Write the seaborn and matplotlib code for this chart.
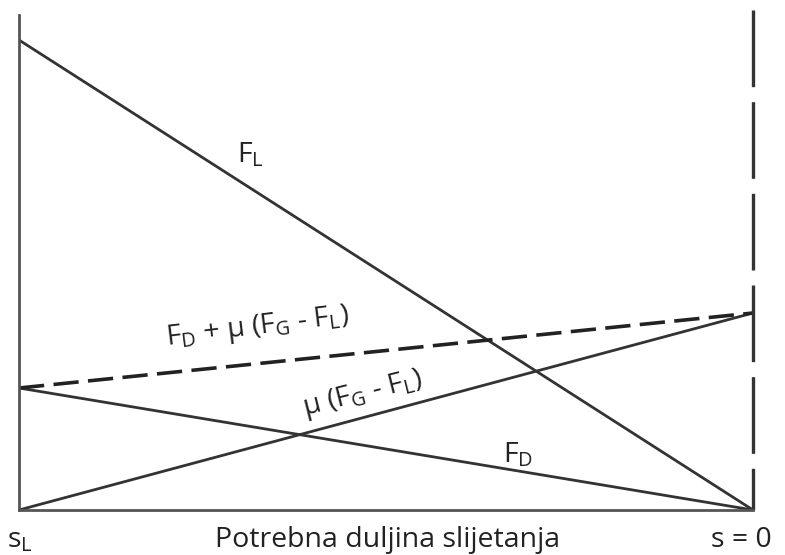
import matplotlib
matplotlib.use("Agg")
import matplotlib.pyplot as plt
import seaborn as sns
import pandas as pd

# Data (arbitrary force units, x: 0 = s_L, 1 = s = 0)
positions = [0.0, 1.0]
F_L = [4.70, 0.0]
F_D = [1.22, 0.0]
mu_FG_FL = [0.0, 1.97]
F_D_plus_mu = [F_D[i] + mu_FG_FL[i] for i in range(2)]

series_names = ["F_L", "F_D", "mu", "sum"]

sns.set_theme(style="white")
plt.rcParams["font.family"] = ["Open Sans", "DejaVu Sans"]
plt.rcParams["mathtext.fontset"] = "custom"
plt.rcParams["mathtext.rm"] = "Open Sans"
plt.rcParams["mathtext.it"] = "Open Sans"

rows = []
for name, vals in zip(series_names, [F_L, F_D, mu_FG_FL, F_D_plus_mu]):
    for x, y in zip(positions, vals):
        rows.append({"s": x, "F": y, "series": name})
df = pd.DataFrame(rows)

fig = plt.figure(figsize=(7.85, 5.55), dpi=100)
ax = fig.add_axes([19/785, 45/555, (753-19)/785, (510-15)/555])

col = "#333333"
sns.lineplot(data=df[df["series"] != "sum"], x="s", y="F", hue="series",
             palette={n: col for n in series_names[:3]},
             linewidth=2.0, legend=False, ax=ax)
sns.lineplot(data=df[df["series"] == "sum"], x="s", y="F", color="#222222",
             linewidth=2.6, dashes=False, legend=False, ax=ax)
ax.lines[-1].set_dashes((7, 2.6))

ax.set_xlim(0, 1)
ax.set_ylim(0, 4.95)
ax.plot([1.0, 1.0], [5.0, 0.0], color=col, lw=2.4, dashes=(23, 4.5), clip_on=False)

for sp in ["top", "right"]:
    ax.spines[sp].set_visible(False)
for sp in ["left", "bottom"]:
    ax.spines[sp].set_color("#555555")
    ax.spines[sp].set_linewidth(2.0)
ax.set_xticks([])
ax.set_yticks([])
ax.set_xlabel("")
ax.set_ylabel("")

fs = 20.5
tc = "#222222"
ax.text(0.315, 3.55, r"F$_\mathrm{L}$", fontsize=fs, color=tc, ha="center", va="center")
ax.text(0.325, 1.83, r"F$_\mathrm{D}$ + μ (F$_\mathrm{G}$ - F$_\mathrm{L}$)", fontsize=fs,
        color=tc, ha="center", va="center", rotation=7)
ax.text(0.468, 1.16, r"μ (F$_\mathrm{G}$ - F$_\mathrm{L}$)", fontsize=fs,
        color=tc, ha="center", va="center", rotation=14)
ax.text(0.680, 0.55, r"F$_\mathrm{D}$", fontsize=fs, color=tc, ha="center", va="center")

fig.text(20/785, 1 - 540/555, r"s$_\mathrm{L}$", fontsize=fs, color=tc, ha="center", va="center")
fig.text(388/785, 1 - 540/555, "Potrebna duljina slijetanja", fontsize=fs, color=tc,
         ha="center", va="center")
fig.text(741/785, 1 - 540/555, "s = 0", fontsize=fs, color=tc, ha="center", va="center")

fig.savefig("out.png", dpi=100)
